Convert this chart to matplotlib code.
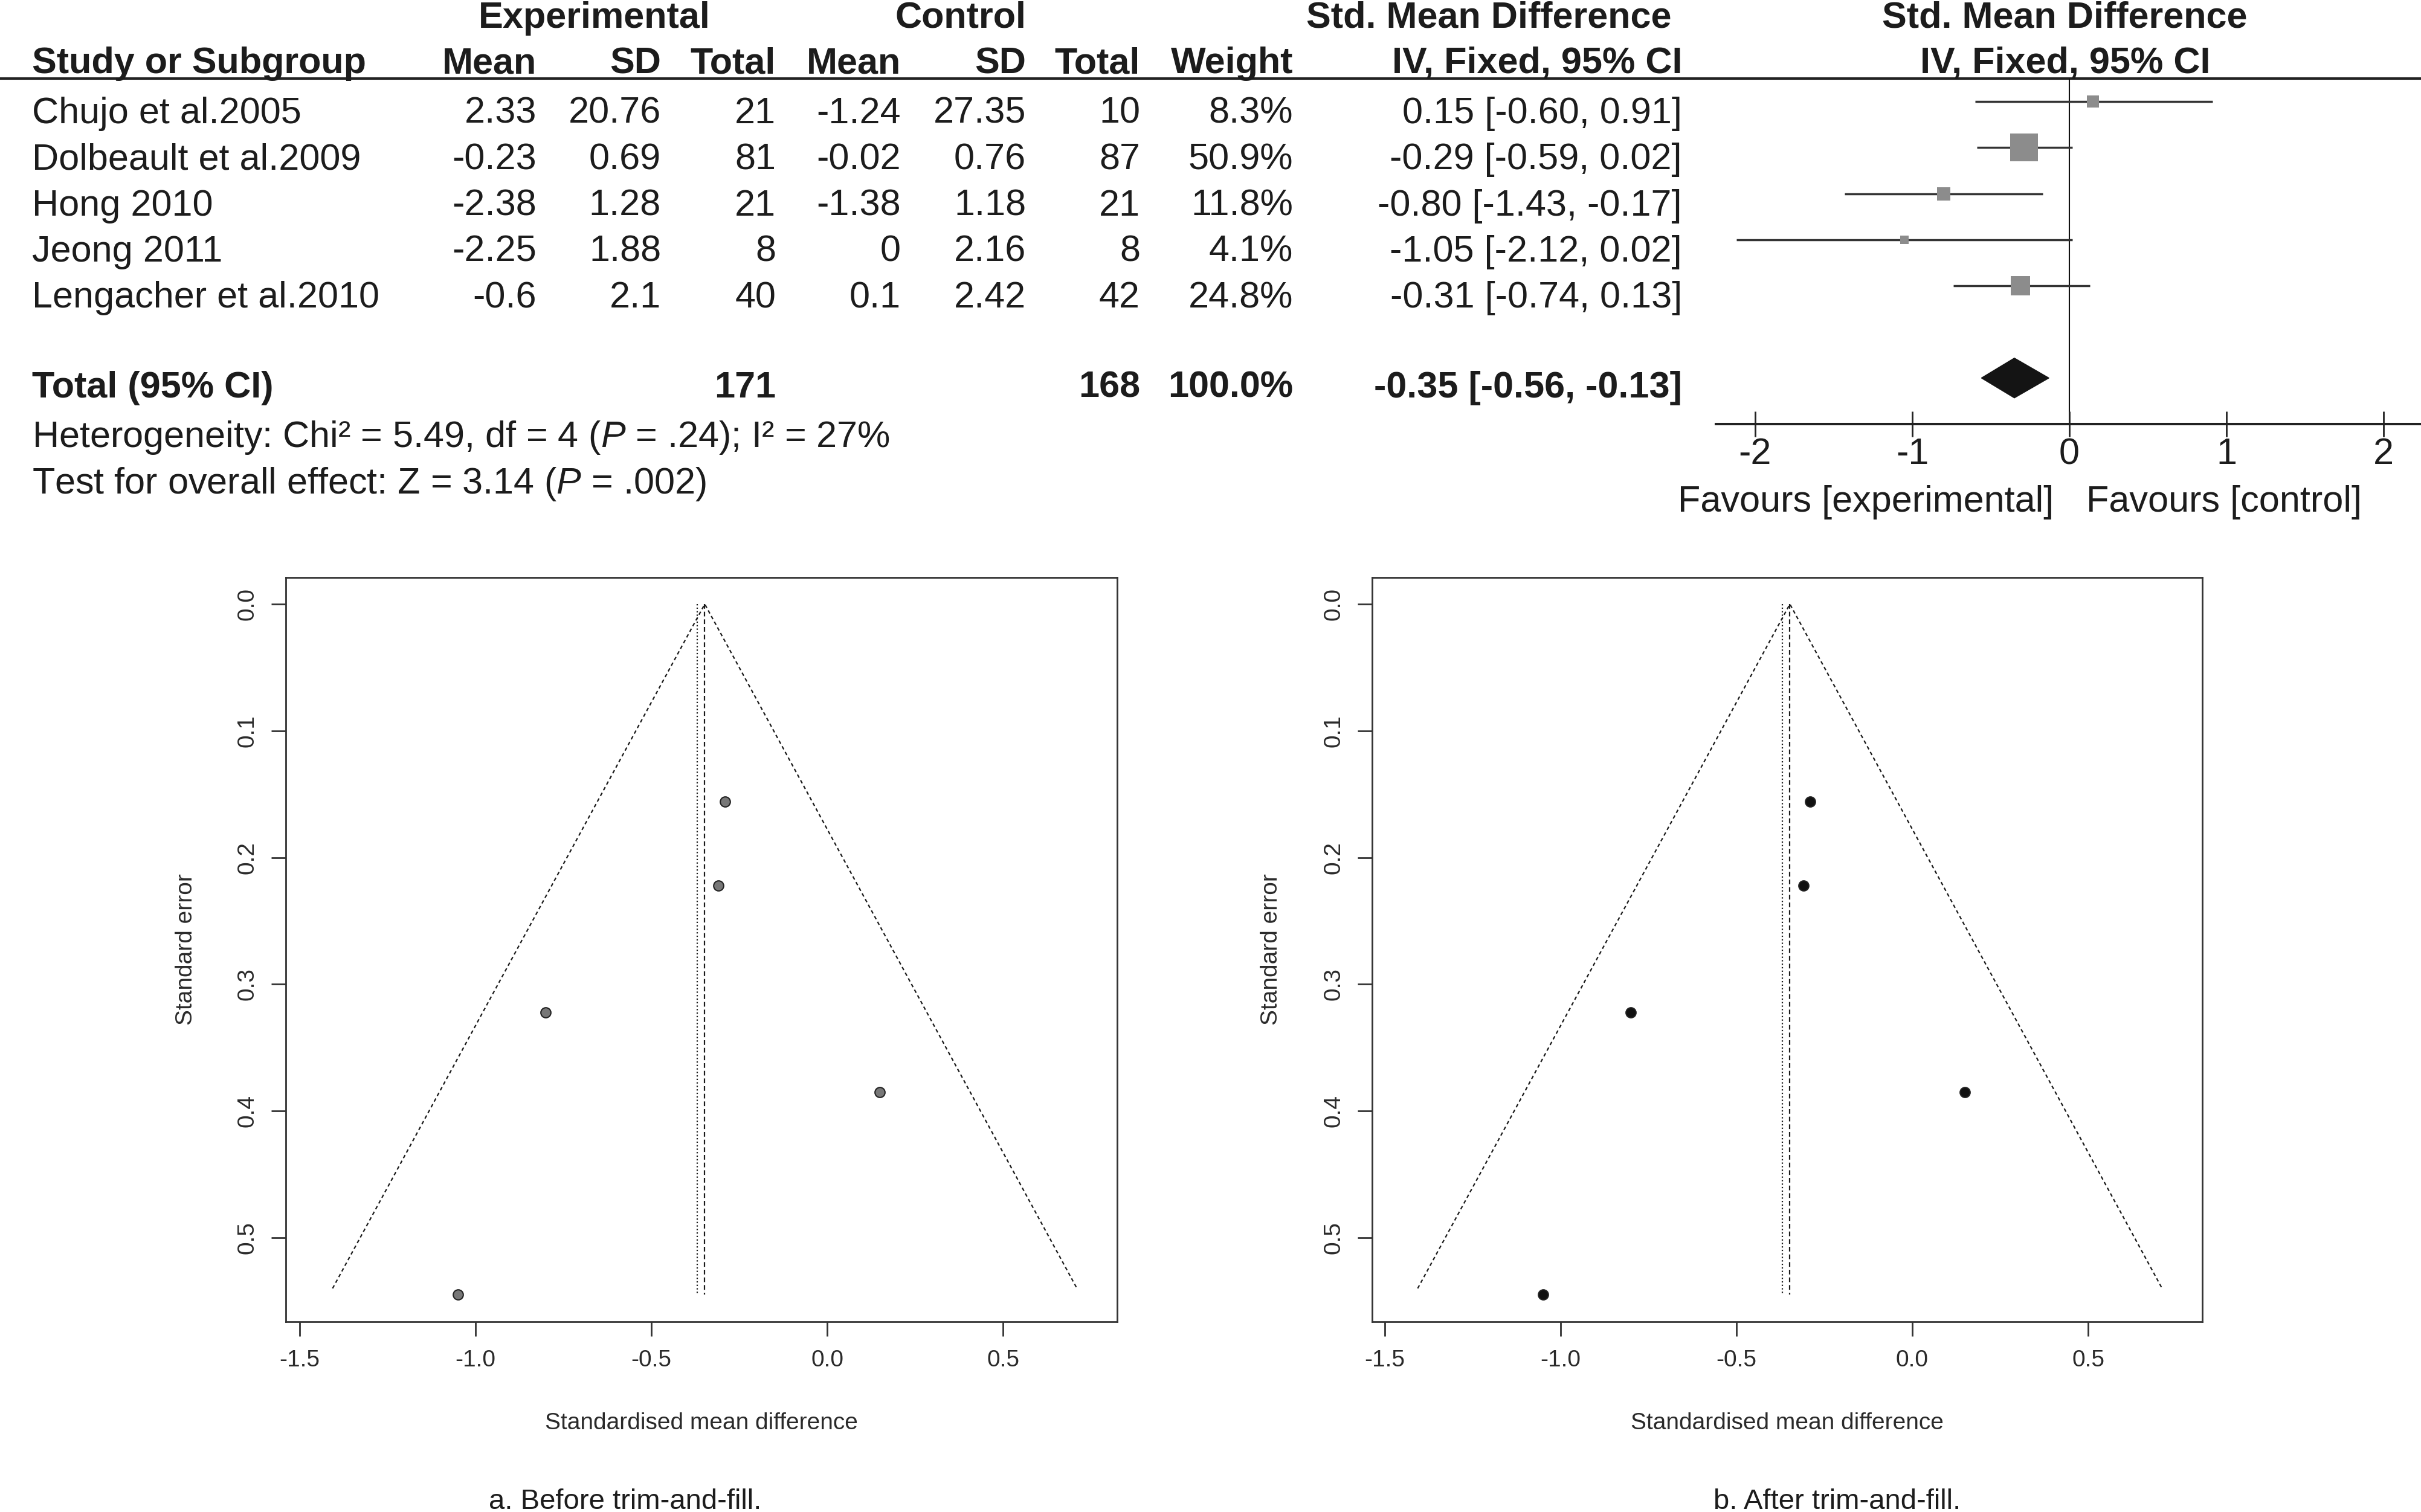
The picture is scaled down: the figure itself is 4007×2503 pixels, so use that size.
import matplotlib
matplotlib.use("Agg")
import matplotlib.pyplot as plt
from matplotlib import font_manager
from matplotlib.patches import Polygon
import numpy as np

# ---------------- data ----------------
studies = ["Chujo et al.2005", "Dolbeault et al.2009", "Hong 2010", "Jeong 2011", "Lengacher et al.2010"]
exp_mean = ["2.33", "-0.23", "-2.38", "-2.25", "-0.6"]
exp_sd = ["20.76", "0.69", "1.28", "1.88", "2.1"]
exp_n = [21, 81, 21, 8, 40]
ctl_mean = ["-1.24", "-0.02", "-1.38", "0", "0.1"]
ctl_sd = ["27.35", "0.76", "1.18", "2.16", "2.42"]
ctl_n = [10, 87, 21, 8, 42]
weight = [8.3, 50.9, 11.8, 4.1, 24.8]
smd = [0.15, -0.29, -0.80, -1.05, -0.31]
ci_lo = [-0.60, -0.59, -1.43, -2.12, -0.74]
ci_hi = [0.91, 0.02, -0.17, 0.02, 0.13]
total_exp, total_ctl, total_w = 171, 168, "100.0%"
total_smd, total_lo, total_hi = -0.35, -0.56, -0.13
forest_ticks = [-2, -1, 0, 1, 2]

# funnel plot data
funnel_se = [0.385, 0.156, 0.322, 0.545, 0.222]
fixed_est = -0.348
random_est = -0.370
funnel_se_max = 0.540
funnel_xticks = [-1.5, -1.0, -0.5, 0.0, 0.5]
funnel_yticks = [0.0, 0.1, 0.2, 0.3, 0.4, 0.5]

# ---------------- style ----------------
W, H = 4007, 2503
plt.rcParams["font.family"] = ["Liberation Sans", "DejaVu Sans"]
plt.rcParams["axes.unicode_minus"] = False
plt.rcParams["mathtext.fontset"] = "custom"
plt.rcParams["mathtext.rm"] = "Liberation Sans"
plt.rcParams["mathtext.it"] = "Liberation Sans:italic"

names = {f.name for f in font_manager.fontManager.ttflist}
if "Liberation Sans Narrow" in names:
    cap_font, cap_size = "Liberation Sans Narrow", 40
else:
    cap_font, cap_size = "Liberation Sans", 34

TXT = "#1c1c1c"
FS = 44

fig = plt.figure(figsize=(W / 100, H / 100), dpi=100)
ov = fig.add_axes([0, 0, 1, 1])
ov.set_xlim(0, W)
ov.set_ylim(H, 0)
ov.axis("off")


def t(x, y, s, ha="left", bold=False, size=FS, **kw):
    ov.text(x, y, s, ha=ha, va="baseline", fontsize=size, color=TXT,
            fontweight="bold" if bold else "normal", **kw)


# headers
t(984, 46, "Experimental", ha="center", bold=True)
t(1590, 46, "Control", ha="center", bold=True)
t(2464, 46, "Std. Mean Difference", ha="center", bold=True)
t(3417, 46, "Std. Mean Difference", ha="center", bold=True)
hb = 121
t(53, hb, "Study or Subgroup", bold=True)
col_x = [888, 1094, 1284, 1491, 1698, 1887, 2140]
for x, s in zip(col_x, ["Mean", "SD", "Total", "Mean", "SD", "Total", "Weight"]):
    t(x, hb, s, ha="right", bold=True)
t(2784, hb, "IV, Fixed, 95% CI", ha="right", bold=True)
t(3418, hb, "IV, Fixed, 95% CI", ha="center", bold=True)
ov.plot([0, W], [130, 130], color="#222222", lw=2.9, solid_capstyle="butt")

# study rows
row_y0, row_dy = 168, 76.27
for i, name in enumerate(studies):
    yb = row_y0 + i * row_dy + 36
    t(53, yb, name)
    vals = [exp_mean[i], exp_sd[i], str(exp_n[i]), ctl_mean[i], ctl_sd[i],
            str(ctl_n[i]), f"{weight[i]:.1f}%"]
    for x, s in zip(col_x, vals):
        t(x, yb, s, ha="right")
    t(2784, yb, f"{smd[i]:.2f} [{ci_lo[i]:.2f}, {ci_hi[i]:.2f}]", ha="right")

# total row
ty = 658
t(53, ty, "Total (95% CI)", bold=True)
t(col_x[2], ty, str(total_exp), ha="right", bold=True)
t(col_x[5], ty, str(total_ctl), ha="right", bold=True)
t(col_x[6], ty, total_w, ha="right", bold=True)
t(2784, ty, f"{total_smd:.2f} [{total_lo:.2f}, {total_hi:.2f}]", ha="right", bold=True)
t(53, 740, r"Heterogeneity: Chi² = 5.49, df = 4 ($\mathit{P}$ = .24); I² = 27%")
t(53, 817, r"Test for overall effect: Z = 3.14 ($\mathit{P}$ = .002)")
t(3399, 847, "Favours [experimental]", ha="right")
t(3453, 847, "Favours [control]", ha="left")

# forest plot axes
x0px, zero_px, unit_px = 2840, 3425, 260.0
fax = fig.add_axes([x0px / W, 1 - 702 / H, 1 - x0px / W, (702 - 130) / H])
fax.set_xlim((x0px - zero_px) / unit_px, (W - zero_px) / unit_px)
fax.set_ylim(7.0, -0.5)
fax.patch.set_alpha(0)
for s in ["top", "left", "right"]:
    fax.spines[s].set_visible(False)
fax.spines["bottom"].set_linewidth(2.9)
fax.spines["bottom"].set_color("#222222")
fax.set_yticks([])
fax.set_xticks(forest_ticks)
fax.set_xticklabels([str(v) for v in forest_ticks])
fax.tick_params(axis="x", direction="inout", length=30, width=2, labelsize=FS,
                pad=1, colors="#222222", labelcolor=TXT)
fax.plot([0, 0], [-0.5, 7.0], color="#111111", lw=1.5, zorder=1)
for i in range(len(studies)):
    fax.plot([ci_lo[i], ci_hi[i]], [i, i], color="#333333", lw=2.5,
             solid_capstyle="butt", zorder=2)
    side_px = 6.2 * np.sqrt(weight[i]) + 1.5
    fax.plot(smd[i], i, marker="s", ms=side_px / 1.389, color="#8c8c8c",
             mec="#8c8c8c", mew=0, zorder=3)
h = 33 / row_dy
fax.add_patch(Polygon([[total_lo, 6], [total_smd, 6 - h], [total_hi, 6], [total_smd, 6 + h]],
                      closed=True, facecolor="#141414", edgecolor="#141414", lw=1, zorder=3))

# ---------------- funnel plots ----------------
def funnel(rect, xlim, fill, ylabel_x):
    ax = fig.add_axes(rect)
    ax.set_xlim(*xlim)
    ax.set_ylim(0.5663, -0.021)
    for s in ax.spines.values():
        s.set_linewidth(2.0)
        s.set_color("#333333")
    se_max = funnel_se_max
    ax.plot([fixed_est - 1.96 * se_max, fixed_est, fixed_est + 1.96 * se_max],
            [se_max, 0, se_max], color="#1a1a1a", lw=1.6, ls=(0, (2.6, 2.2)))
    ax.plot([fixed_est, fixed_est], [0, max(funnel_se)], color="#1a1a1a", lw=1.6,
            ls=(0, (3.5, 2.2)))
    ax.plot([random_est, random_est], [0, max(funnel_se)], color="#1a1a1a", lw=1.6,
            ls=(0, (1, 1.6)))
    ax.plot(smd, funnel_se, ls="none", marker="o", ms=12, mfc=fill, mec="#222222",
            mew=1.5, zorder=4)
    ax.set_xticks(funnel_xticks)
    ax.set_xticklabels([f"{v:.1f}" for v in funnel_xticks])
    ax.set_yticks(funnel_yticks)
    ax.set_yticklabels([f"{v:.1f}" for v in funnel_yticks])
    ax.tick_params(length=17, width=2, labelsize=28, pad=16, colors="#333333",
                   labelcolor="#2a2a2a")
    ax.tick_params(axis="y", labelrotation=90)
    for lab in ax.get_yticklabels():
        lab.set_va("center")
    ax.set_xlabel("Standardised mean difference", fontsize=28, color="#2a2a2a")
    ax.xaxis.set_label_coords(0.5, -0.136)
    ax.xaxis.label.set_va("center")
    ax.set_ylabel("Standard error", fontsize=28, color="#2a2a2a")
    ax.yaxis.set_label_coords(ylabel_x, 0.5)
    ax.yaxis.label.set_va("center")
    return ax


ax_b = 1 - 2188 / H
ax_h = 1232 / H
funnel([473 / W, ax_b, 1376 / W, ax_h], (-1.5395, 0.8247), "#777777", -0.12)
funnel([2271 / W, ax_b, 1374 / W, ax_h], (-1.536, 0.8247), "#111111", -0.1215)

ov.text(1035, 2498, "a. Before trim-and-fill.", ha="center", va="baseline",
        fontsize=cap_size, family=[cap_font, "DejaVu Sans"], color=TXT)
ov.text(3041, 2498, "b. After trim-and-fill.", ha="center", va="baseline",
        fontsize=cap_size, family=[cap_font, "DejaVu Sans"], color=TXT)

fig.savefig("out.png", dpi=100, facecolor="white")
